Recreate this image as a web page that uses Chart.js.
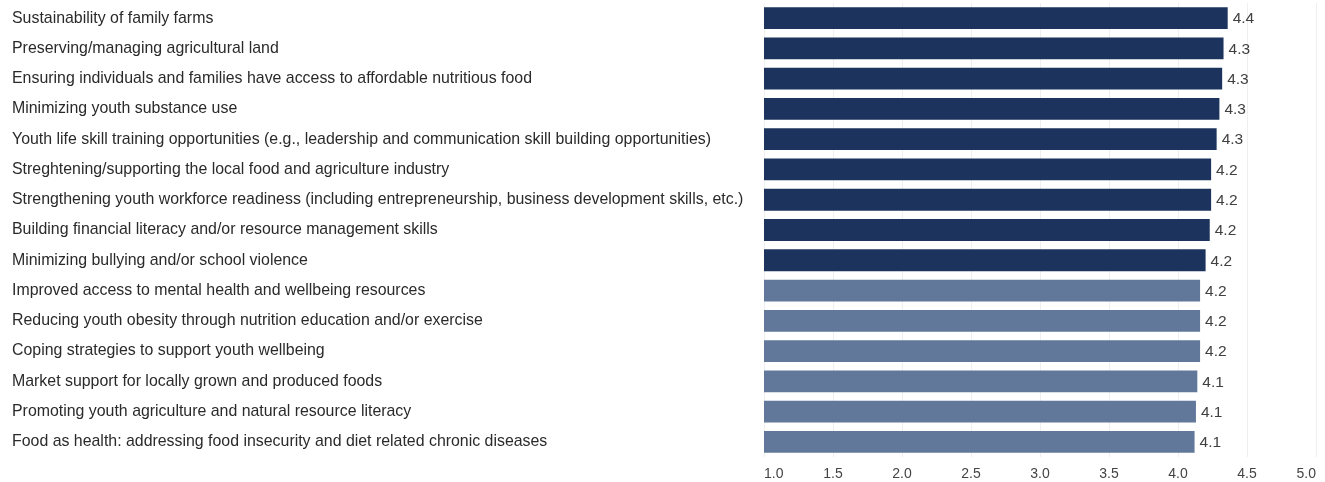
<!DOCTYPE html>
<html>
<head>
<meta charset="utf-8">
<script src="https://cdn.jsdelivr.net/npm/chart.js@4/dist/chart.umd.min.js"></script>
<style>
  html, body { margin: 0; padding: 0; background: #ffffff; }
  #wrap { width: 1325px; height: 482px; position: relative; }
</style>
</head>
<body>
<div id="wrap"><canvas id="c"></canvas></div>
<script>
const categories = [
  "Sustainability of family farms",
  "Preserving/managing agricultural land",
  "Ensuring individuals and families have access to affordable nutritious food",
  "Minimizing youth substance use",
  "Youth life skill training opportunities (e.g., leadership and communication skill building opportunities)",
  "Streghtening/supporting the local food and agriculture industry",
  "Strengthening youth workforce readiness (including entrepreneurship, business development skills, etc.)",
  "Building financial literacy and/or resource management skills",
  "Minimizing bullying and/or school violence",
  "Improved access to mental health and wellbeing resources",
  "Reducing youth obesity through nutrition education and/or exercise",
  "Coping strategies to support youth wellbeing",
  "Market support for locally grown and produced foods",
  "Promoting youth agriculture and natural resource literacy",
  "Food as health: addressing food insecurity and diet related chronic diseases"
];
const values = [4.36, 4.33, 4.32, 4.30, 4.28, 4.24, 4.24, 4.23, 4.20, 4.16, 4.16, 4.16, 4.14, 4.13, 4.12];
const groups = ["top", "top", "top", "top", "top", "top", "top", "top", "top", "other", "other", "other", "other", "other", "other"];
const xTicks = [1.0, 1.5, 2.0, 2.5, 3.0, 3.5, 4.0, 4.5, 5.0];

const groupColors = { top: "#1c345d", other: "#62789a" };

const valueLabels = {
  id: "valueLabels",
  afterDatasetsDraw(chart) {
    const ctx = chart.ctx;
    const meta = chart.getDatasetMeta(0);
    ctx.save();
    ctx.font = "15.5px 'Liberation Sans', Arial, sans-serif";
    ctx.fillStyle = "#404040";
    ctx.textAlign = "left";
    ctx.textBaseline = "middle";
    meta.data.forEach((bar, i) => {
      ctx.fillText(values[i].toFixed(1), bar.x + 5, bar.y + 1);
    });
    ctx.restore();
  }
};

new Chart(document.getElementById("c"), {
  type: "bar",
  data: {
    labels: categories,
    datasets: [{
      data: values,
      backgroundColor: groups.map(g => groupColors[g]),
      borderWidth: 0,
      barPercentage: 0.9,
      categoryPercentage: 0.8
    }]
  },
  options: {
    indexAxis: "y",
    responsive: true,
    maintainAspectRatio: false,
    animation: false,
    layout: { padding: { left: 12, right: 8, top: 3, bottom: 0 } },
    plugins: { legend: { display: false }, tooltip: { enabled: false } },
    scales: {
      x: {
        min: 1,
        max: 5,
        afterBuildTicks(scale) { scale.ticks = xTicks.map(v => ({ value: v })); },
        afterFit(scale) { scale.height = 25; },
        ticks: {
          align: "inner",
          color: "#444444",
          font: { family: "'Liberation Sans', Arial, sans-serif", size: 14 },
          padding: 9,
          callback: v => Number(v).toFixed(1)
        },
        grid: { color: "#efefef", drawTicks: false, lineWidth: 1 },
        border: { display: false }
      },
      y: {
        afterFit(scale) { scale.width = 752; scale.paddingTop = 0; scale.paddingBottom = 0; },
        ticks: {
          crossAlign: "far",
          color: "#2a2a2a",
          font: { family: "'Liberation Sans', Arial, sans-serif", size: 15.9 },
          padding: 0
        },
        grid: { display: false, drawTicks: false },
        border: { display: false }
      }
    }
  },
  plugins: [valueLabels]
});
</script>
</body>
</html>
